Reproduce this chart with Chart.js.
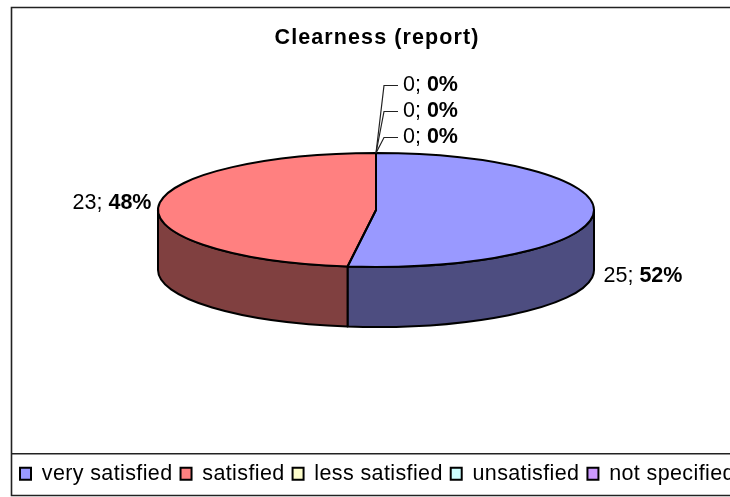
<!DOCTYPE html>
<html><head><meta charset="utf-8">
<style>html,body{margin:0;padding:0;background:#fff}#w{width:730px;height:497px;position:relative}</style>
<script src="https://cdn.jsdelivr.net/npm/chart.js@4"></script>
</head><body><div id="w"><canvas id="c" width="730" height="497"></canvas></div>
<script>
const categories = ["very satisfied","satisfied","less satisfied","unsatisfied","not specified"];
const values = [25,23,0,0,0];
const percents = ["52%","48%","0%","0%","0%"];
const topColors = ["#9999FF","#FF8080","#FFFFCC","#CCFFFF","#CC99FF"];
const wallColors = ["#4D4D80","#804040","#808066","#668080","#664D80"];
const chartTitle = "Clearness (report)";

// label offsets from each slice's rim mid-point
const labelOffsets = [[10,62,"left"],[-7,-3,"right"],[27,-68,"left"],[27,-42,"left"],[27,-16,"left"]];
const FONT = "Liberation Sans, Arial, sans-serif";
const PIE = {cx:376, cy:210, rx:218, ry:57, depth:60};

function rim(a,dy=0){return [PIE.cx+PIE.rx*Math.cos(a), PIE.cy+PIE.ry*Math.sin(a)+dy];}

const pie3d = {
  id:'pie3d',
  beforeLayout(chart){
    chart.ctx.letterSpacing="0.38px";
    const l=chart.legend;
    if(!l._wide){ const f=l.fit; l.fit=function(){ this.maxWidth=800; f.call(this); }; l._wide=true; }
  },
  afterLayout(chart){
    const t=chart.titleBlock; t.left+=12; t.right+=12; t.top=25; t.bottom=t.top+t.height;
    if(!t._spaced){ const d=t.draw; t.draw=function(area){ const c=t.ctx; c.save(); c.letterSpacing="1.1px"; d.call(t,area); c.restore(); }; t._spaced=true; }
    const l=chart.legend; const h=l.height; l.left=12; l.right=800; l.top=455; l.bottom=l.top+h;
  },
  beforeDraw(chart){
    const c=chart.ctx; c.save();
    c.strokeStyle="#222"; c.lineWidth=1.6;
    c.beginPath();
    c.moveTo(730,7.5);c.lineTo(11.5,7.5);c.lineTo(11.5,495.5);c.lineTo(730,495.5);
    c.moveTo(11.5,453.7);c.lineTo(730,453.7);
    c.stroke(); c.restore();
  },
  beforeDatasetsDraw(chart){
    const c=chart.ctx, arcs=chart.getDatasetMeta(0).data;
    c.save(); c.strokeStyle="#000"; c.lineWidth=2; c.lineJoin="round";
    arcs.forEach((a,i)=>{
      const s=Math.max(a.startAngle,0), e=Math.min(a.endAngle,Math.PI);
      if(a.circumference<=0||e<=s) return;
      c.beginPath();
      c.ellipse(PIE.cx,PIE.cy,PIE.rx,PIE.ry,0,s,e);
      c.ellipse(PIE.cx,PIE.cy+PIE.depth,PIE.rx,PIE.ry,0,e,s,true);
      c.closePath(); c.fillStyle=wallColors[i]; c.fill(); c.stroke();
    });
    c.restore();
    const a0=arcs[0];
    c.save();
    c.translate(PIE.cx,PIE.cy);
    c.scale(PIE.rx/a0.outerRadius,PIE.ry/a0.outerRadius);
    c.translate(-a0.x,-a0.y);
  },
  afterDatasetsDraw(chart){
    const c=chart.ctx, arcs=chart.getDatasetMeta(0).data;
    c.restore();
    c.save(); c.strokeStyle="#000"; c.lineWidth=2; c.lineJoin="round";
    arcs.forEach(a=>{
      if(a.circumference<=0) return;
      c.beginPath(); c.moveTo(PIE.cx,PIE.cy);
      c.ellipse(PIE.cx,PIE.cy,PIE.rx,PIE.ry,0,a.startAngle,a.endAngle);
      c.closePath(); c.stroke();
    });
    c.restore();
    c.save(); c.textBaseline="middle"; c.letterSpacing="0px";
    arcs.forEach((a,i)=>{
      const mid=(a.startAngle+a.endAngle)/2;
      const [px,py]=rim(mid);
      const [dx,dy,al]=labelOffsets[i];
      const lx=px+dx, ly=py+dy;
      if(values[i]===0){
        c.strokeStyle="#222"; c.lineWidth=1.2;
        c.beginPath(); c.moveTo(px,py); c.lineTo(px+8,ly+0.5); c.lineTo(lx-5,ly+0.5); c.stroke();
      }
      const head=values[i]+"; ", tail=percents[i];
      c.font="21.5px "+FONT; const w1=c.measureText(head).width;
      c.font="bold 21.5px "+FONT; const w2=c.measureText(tail).width;
      const x0= al==="right"? lx-w1-w2 : lx;
      c.fillStyle="#000"; c.textAlign="left";
      c.font="21.5px "+FONT; c.fillText(head,x0,ly);
      c.font="bold 21.5px "+FONT; c.fillText(tail,x0+w1,ly);
    });
    c.restore();
  }
};

new Chart(document.getElementById('c'),{
  type:'pie',
  data:{labels:categories,datasets:[{data:values,backgroundColor:topColors,borderWidth:0,clip:false}]},
  plugins:[pie3d],
  options:{
    responsive:false,animation:false,
    layout:{padding:0},
    plugins:{
      tooltip:{enabled:false},
      title:{display:true,text:chartTitle,color:"#000",font:{family:FONT,size:21.5,weight:'bold'},padding:{top:0,bottom:0}},
      legend:{display:true,position:'bottom',align:'start',
        labels:{color:"#000",font:{family:FONT,size:21.5},boxWidth:11,boxHeight:12,padding:8,
          generateLabels(){return categories.map((t,i)=>({text:t,fillStyle:topColors[i],strokeStyle:"#000",lineWidth:2,index:i,hidden:false}));}
        }
      }
    }
  }
});
</script></body></html>
